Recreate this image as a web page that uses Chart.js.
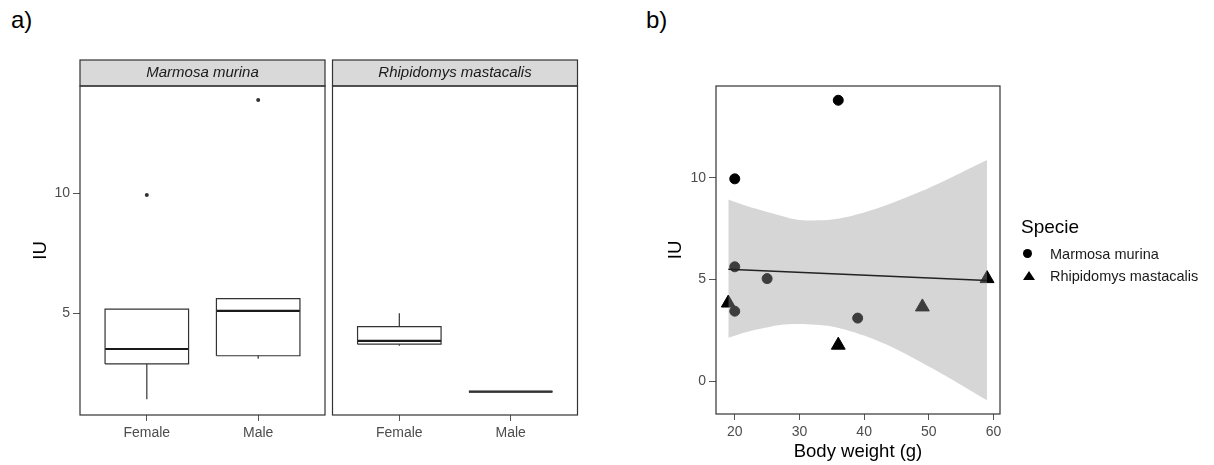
<!DOCTYPE html>
<html><head><meta charset="utf-8">
<script src="https://cdn.jsdelivr.net/npm/chart.js@4.4.1/dist/chart.umd.min.js"></script>
<style>
html,body{margin:0;padding:0;background:#fff;}
#page{position:relative;width:1214px;height:465px;overflow:hidden;font-family:"Liberation Sans",Arial,sans-serif;color:#000;}
canvas{position:absolute;top:0;}
.lab{position:absolute;font-size:24px;line-height:24px;}
.leg{position:absolute;white-space:nowrap;}
</style></head><body>
<div id="page">
  <div class="lab" style="left:11px;top:8px">a)</div>
  <div class="lab" style="left:646px;top:8px">b)</div>
  <canvas id="a1" width="330" height="465" style="left:0px"></canvas>
  <canvas id="a2" width="250" height="465" style="left:330px"></canvas>
  <canvas id="b" width="584" height="465" style="left:630px"></canvas>
  <div class="leg" id="legTitle" style="left:1021px;top:215px;font-size:19px;line-height:24px"></div>
  <div class="leg" style="left:1023px;top:249px;width:9px;height:9px;border-radius:50%;background:#000"></div>
  <div class="leg" id="leg1" style="left:1050px;top:245px;font-size:14.5px;line-height:18px;color:#1a1a1a"></div>
  <div class="leg" style="left:1023px;top:271px;width:0;height:0;border-left:6px solid transparent;border-right:6px solid transparent;border-bottom:9px solid #000"></div>
  <div class="leg" id="leg2" style="left:1050px;top:267px;font-size:14.5px;line-height:18px;color:#1a1a1a"></div>
</div>
<script>
// ---------- data ----------
const sexes = ['Female', 'Male'];
const species = ['Marmosa murina', 'Rhipidomys mastacalis'];
const legendTitle = 'Specie';

// panel a: box statistics per sex [Female, Male]
const marmosaLow = [1.42, 3.10];
const marmosaQ1 = [2.89, 3.23];
const marmosaMed = [3.51, 5.10];
const marmosaQ3 = [5.17, 5.61];
const marmosaHigh = [5.17, 5.61];
const marmosaOutliers = [[9.93], [13.89]];

const rhipLow = [3.65, 1.73];
const rhipQ1 = [3.71, 1.73];
const rhipMed = [3.85, 1.73];
const rhipQ3 = [4.44, 1.73];
const rhipHigh = [5.00, 1.73];
const rhipOutliers = [[], []];

const yTicksA = [5, 10];

// panel b: scatter
const weightMarmosa = [20, 36, 20, 25, 20, 39];
const iuMarmosa = [9.95, 13.81, 5.63, 5.05, 3.45, 3.11];
const weightRhip = [19, 36, 49, 59];
const iuRhip = [3.85, 1.78, 3.66, 5.05];

// linear fit and its confidence band
const fitX = [19, 59];
const fitY = [5.51, 4.96];
const bandX = [19, 22, 27, 30, 35, 40, 45, 50, 55, 59];
const bandUpper = [8.94, 8.60, 8.15, 7.93, 7.95, 8.30, 8.85, 9.50, 10.25, 10.87];
const bandLower = [2.14, 2.44, 2.77, 2.82, 2.70, 2.25, 1.58, 0.73, -0.17, -0.93];

const xTicksB = [20, 30, 40, 50, 60];
const yTicksB = [0, 5, 10];

// ---------- style ----------
Chart.defaults.font.family = '"Liberation Sans", Arial, sans-serif';
const TICK_FONT = {size: 14};
const TICK_COLOR = '#4d4d4d';
const TITLE_FONT = {size: 18.5};
const BORDER_COLOR = '#333333';
const BOX_HALF = 0.375;

const pts = (xs, ys) => xs.map((x, i) => ({x, y: ys[i]}));

function lineDs(data, color, width) {
  return {data, showLine: true, borderColor: color, borderWidth: width, pointRadius: 0,
          fill: false, tension: 0, backgroundColor: color};
}

function boxDatasets(low, q1, med, q3, high, outliers) {
  const ds = [];
  sexes.forEach((s, i) => {
    const c = i + 1, h = BOX_HALF;
    ds.push(lineDs([{x: c, y: q3[i]}, {x: c, y: high[i]}], '#333', 1.2));
    ds.push(lineDs([{x: c, y: low[i]}, {x: c, y: q1[i]}], '#333', 1.2));
    ds.push(lineDs([{x: c - h, y: q1[i]}, {x: c + h, y: q1[i]}, {x: c + h, y: q3[i]},
                    {x: c - h, y: q3[i]}, {x: c - h, y: q1[i]}], '#333', 1.2));
    ds.push(lineDs([{x: c - h, y: med[i]}, {x: c + h, y: med[i]}], '#1a1a1a', 2.2));
    if (outliers[i].length) {
      ds.push({data: outliers[i].map(v => ({x: c, y: v})), pointRadius: 2, borderWidth: 0,
               backgroundColor: '#333', pointStyle: 'circle'});
    }
  });
  return ds;
}

const framePlugin = {
  id: 'frame',
  afterDraw(chart, args, opts) {
    const {left, right, top, bottom} = chart.chartArea;
    const ctx = chart.ctx;
    ctx.save();
    if (opts.strip) {
      ctx.fillStyle = '#d9d9d9';
      ctx.fillRect(left, top - 26, right - left, 26);
      ctx.strokeStyle = BORDER_COLOR; ctx.lineWidth = 1.2;
      ctx.strokeRect(left, top - 26, right - left, 26);
      ctx.font = 'italic 15px "Liberation Sans", Arial, sans-serif';
      ctx.fillStyle = '#1a1a1a'; ctx.textAlign = 'center'; ctx.textBaseline = 'middle';
      ctx.fillText(opts.strip, (left + right) / 2, top - 13);
    }
    ctx.strokeStyle = BORDER_COLOR; ctx.lineWidth = 1.2;
    ctx.strokeRect(left, top, right - left, bottom - top);
    ctx.restore();
  }
};

function xCatScale() {
  return {
    type: 'linear', min: 0.4, max: 2.6,
    afterBuildTicks: s => { s.ticks = sexes.map((n, i) => ({value: i + 1})); },
    afterFit: s => { s.height = 50; },
    ticks: {font: TICK_FONT, color: TICK_COLOR, padding: 4, callback: v => sexes[v - 1]},
    grid: {drawOnChartArea: false, drawTicks: true, tickLength: 6, tickColor: '#555'},
    border: {display: false}
  };
}

function facet(id, speciesName, datasets, showY, pad) {
  return new Chart(document.getElementById(id), {
    type: 'scatter',
    data: {datasets},
    plugins: [framePlugin],
    options: {
      responsive: false, animation: false, events: [], devicePixelRatio: 1,
      layout: {padding: pad},
      plugins: {legend: {display: false}, tooltip: {enabled: false},
                frame: {strip: speciesName}},
      scales: {
        x: xCatScale(),
        y: {
          type: 'linear', min: 0.76, max: 14.47, display: showY,
          afterBuildTicks: s => { s.ticks = yTicksA.map(v => ({value: v})); },
          afterFit: s => { s.width = showY ? 80 : 0; },
          ticks: {font: TICK_FONT, color: TICK_COLOR, padding: 3},
          grid: {drawOnChartArea: false, drawTicks: true, tickLength: 7, tickColor: '#555'},
          border: {display: false},
          title: {display: true, text: 'IU', font: TITLE_FONT, color: '#000', padding: {top: 30, bottom: 0}}
        }
      }
    }
  });
}

facet('a1', species[0], boxDatasets(marmosaLow, marmosaQ1, marmosaMed, marmosaQ3, marmosaHigh, marmosaOutliers),
      true, {left: 0, top: 86, right: 5, bottom: 0});
facet('a2', species[1], boxDatasets(rhipLow, rhipQ1, rhipMed, rhipQ3, rhipHigh, rhipOutliers),
      false, {left: 2.5, top: 86, right: 2.5, bottom: 0});

// panel b
new Chart(document.getElementById('b'), {
  type: 'scatter',
  data: {datasets: [
    {label: species[0], data: pts(weightMarmosa, iuMarmosa), pointStyle: 'circle', pointRadius: 5,
     borderWidth: 1, backgroundColor: '#000', borderColor: '#000', order: 4},
    {label: species[1], data: pts(weightRhip, iuRhip), pointStyle: 'triangle', pointRadius: 8,
     borderWidth: 1, backgroundColor: '#000', borderColor: '#000', order: 4},
    {label: 'lower', data: pts(bandX, bandLower), showLine: true, pointRadius: 0, borderWidth: 0,
     borderColor: 'rgba(0,0,0,0)', tension: 0.3, fill: false, order: 3},
    {label: 'upper', data: pts(bandX, bandUpper), showLine: true, pointRadius: 0, borderWidth: 0,
     borderColor: 'rgba(0,0,0,0)', tension: 0.3, fill: {target: 2},
     backgroundColor: 'rgba(153,153,153,0.4)', order: 2},
    {label: 'fit', data: pts(fitX, fitY), showLine: true, pointRadius: 0, borderWidth: 1.5,
     borderColor: '#222', fill: false, order: 1}
  ]},
  plugins: [framePlugin],
  options: {
    responsive: false, animation: false, events: [], devicePixelRatio: 1,
    layout: {padding: {left: 0, top: 86, right: 214, bottom: 0}},
    plugins: {legend: {display: false}, tooltip: {enabled: false}, frame: {strip: null}},
    scales: {
      x: {
        type: 'linear', min: 17.1, max: 61.0,
        afterBuildTicks: s => { s.ticks = xTicksB.map(v => ({value: v})); },
        afterFit: s => { s.height = 51; },
        ticks: {font: TICK_FONT, color: TICK_COLOR, padding: 4},
        grid: {drawOnChartArea: false, drawTicks: true, tickLength: 6, tickColor: '#555'},
        border: {display: false},
        title: {display: true, text: 'Body weight (g)', font: TITLE_FONT, color: '#000', padding: {top: 0, bottom: 2}}
      },
      y: {
        type: 'linear', min: -1.6, max: 14.51,
        afterBuildTicks: s => { s.ticks = yTicksB.map(v => ({value: v})); },
        afterFit: s => { s.width = 86; },
        ticks: {font: TICK_FONT, color: TICK_COLOR, padding: 3},
        grid: {drawOnChartArea: false, drawTicks: true, tickLength: 7, tickColor: '#555'},
        border: {display: false},
        title: {display: true, text: 'IU', font: TITLE_FONT, color: '#000', padding: {top: 35, bottom: 0}}
      }
    }
  }
});

document.getElementById('legTitle').textContent = legendTitle;
document.getElementById('leg1').textContent = species[0];
document.getElementById('leg2').textContent = species[1];
</script>
</body></html>
